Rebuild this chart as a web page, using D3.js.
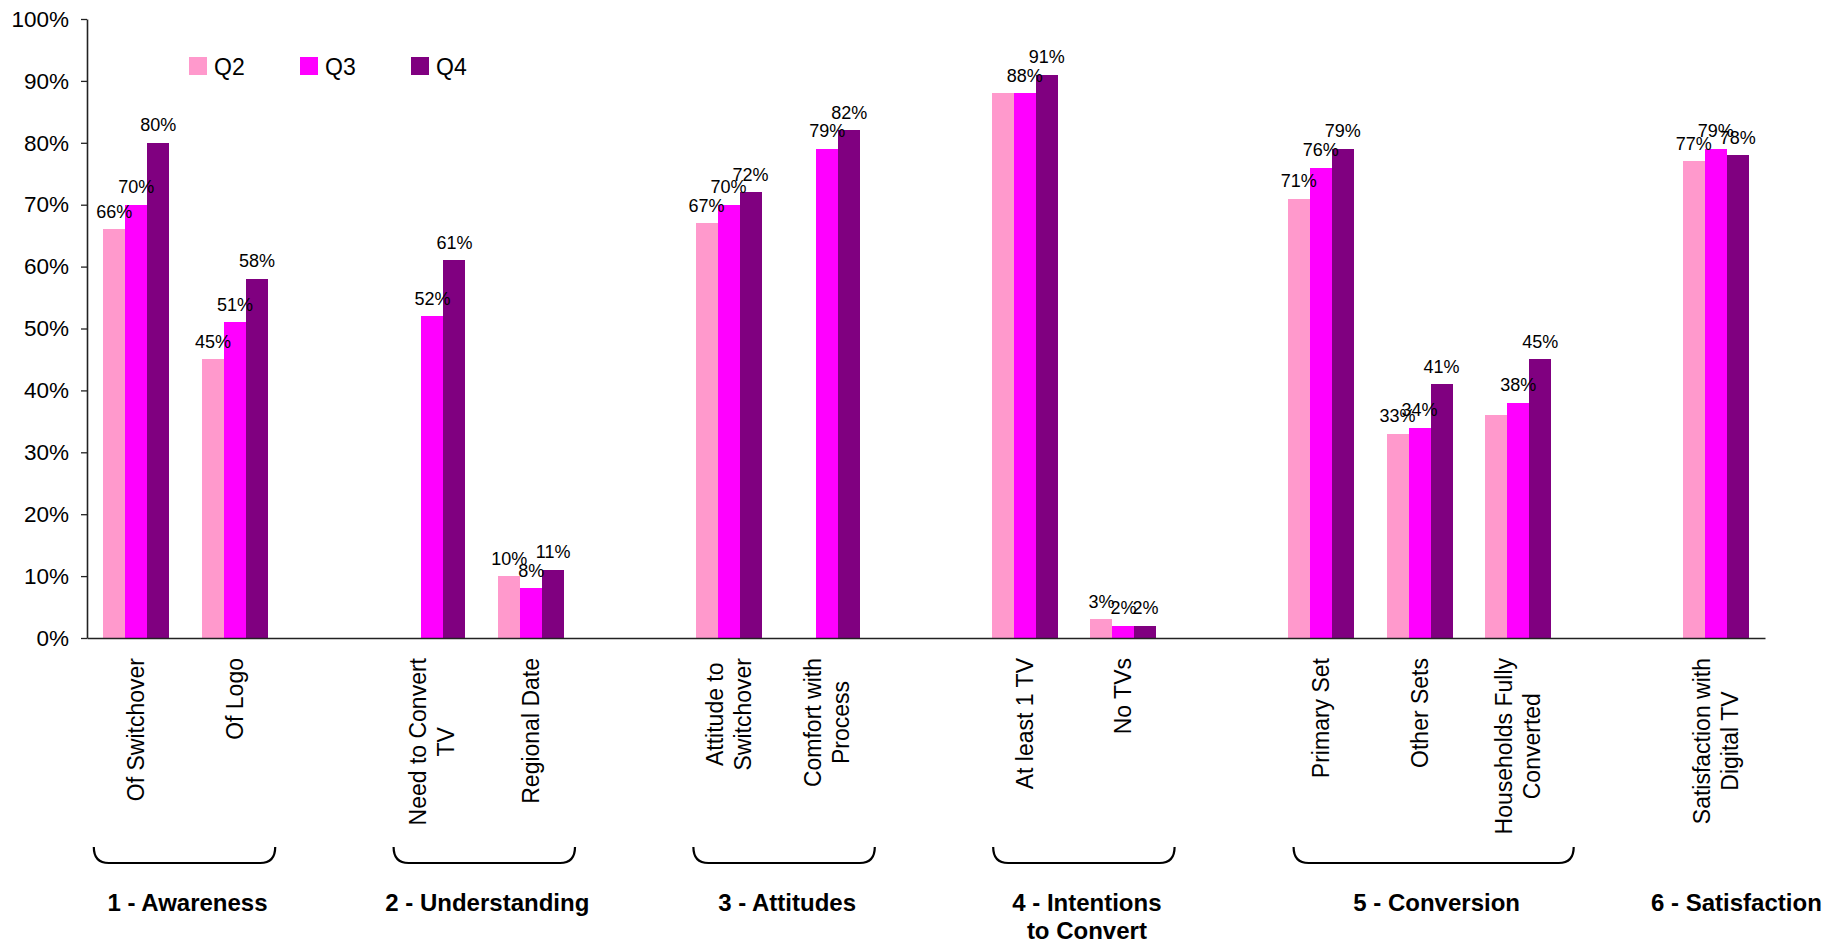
<!DOCTYPE html>
<html>
<head>
<meta charset="utf-8">
<script src="https://cdn.jsdelivr.net/npm/d3@7"></script>
<style>
  html, body { margin: 0; padding: 0; background: #fff; }
  svg { display: block; font-family: "Liberation Sans", Arial, sans-serif; }
</style>
</head>
<body>
<svg id="chart" width="1829" height="944"></svg>
<script>
// ---------- DATA ----------
const categories = [
  "Of Switchover", "Of Logo", "",
  "Need to Convert|TV", "Regional Date", "",
  "Attitude to|Switchover", "Comfort with|Process", "",
  "At least 1 TV", "No TVs", "",
  "Primary Set", "Other Sets", "Households Fully|Converted", "",
  "Satisfaction with|Digital TV"
];
const seriesNames = ["Q2", "Q3", "Q4"];
const q2 = [66, 45, null, null, 10, null, 67, null, null, 88, 3, null, 71, 33, 36, null, 77];
const q3 = [70, 51, null, 52, 8, null, 70, 79, null, 88, 2, null, 76, 34, 38, null, 79];
const q4 = [80, 58, null, 61, 11, null, 72, 82, null, 91, 2, null, 79, 41, 45, null, 78];
const hiddenLabels = [[9, "Q2"], [14, "Q2"]];   // labels not shown in the original
const yTicks = [0, 10, 20, 30, 40, 50, 60, 70, 80, 90, 100];
const groupNames = ["1 - Awareness", "2 - Understanding", "3 - Attitudes", "4 - Intentions|to Convert", "5 - Conversion", "6 - Satisfaction"];
const groupStart = [0, 3, 6, 9, 12, 16];
const groupEnd   = [1, 4, 7, 10, 14, 16];
const groupBraced = [true, true, true, true, true, false];

// ---------- STYLE ----------
const colors = { Q2: "#FF99CC", Q3: "#FF00FF", Q4: "#800080" };
const svg = d3.select("#chart");
const plot = { left: 87, right: 1765, top: 19, bottom: 638 };

const seriesValues = { Q2: q2, Q3: q3, Q4: q4 };

const x0 = d3.scaleBand().domain(d3.range(categories.length)).range([plot.left, plot.right]).padding(0);
const x1 = d3.scaleBand().domain(seriesNames).range([0, x0.bandwidth()]).paddingInner(0).paddingOuter(0.743);
const y = d3.scaleLinear().domain([0, 100]).range([plot.bottom, plot.top]);
// annotation layer (braces, group titles) is laid out slightly wider than the plot
const annot = d3.scaleLinear().domain([0, 1829]).range([-3.5, 1848.2]);

// y axis
const yAxis = svg.append("g")
  .attr("transform", `translate(${plot.left},0)`)
  .call(d3.axisLeft(y).tickValues(yTicks).tickFormat(d => d + "%").tickSize(6).tickSizeOuter(0).tickPadding(12));
yAxis.selectAll("text").attr("font-size", 22.5).attr("fill", "#000").attr("font-family", "Liberation Sans, Arial, sans-serif");
yAxis.selectAll("line").attr("stroke", "#222").attr("stroke-width", 1.3);
yAxis.select(".domain").attr("stroke", "#222").attr("stroke-width", 1.6);

// bars
const barData = [];
categories.forEach((c, i) => {
  seriesNames.forEach(s => {
    const v = seriesValues[s][i];
    if (v !== null && v !== undefined) barData.push({ i, s, v });
  });
});

svg.append("g").selectAll("rect").data(barData).join("rect")
  .attr("x", d => x0(d.i) + x1(d.s))
  .attr("width", x1.bandwidth())
  .attr("y", d => y(d.v))
  .attr("height", d => y(0) - y(d.v))
  .attr("fill", d => colors[d.s])
  .attr("shape-rendering", "crispEdges");

// x axis line
const xAxis = svg.append("g")
  .attr("transform", `translate(0,${plot.bottom})`)
  .call(d3.axisBottom(x0).tickValues([]).tickSizeOuter(0));
xAxis.select(".domain").attr("stroke", "#222").attr("stroke-width", 1.6);

// data labels
const isHidden = d => hiddenLabels.some(h => h[0] === d.i && h[1] === d.s);
svg.append("g").selectAll("text").data(barData.filter(d => !isHidden(d))).join("text")
  .attr("x", d => x0(d.i) + x1(d.s) + x1.bandwidth() / 2)
  .attr("y", d => y(d.v) - 11.5)
  .attr("text-anchor", "middle")
  .attr("font-size", 18)
  .attr("fill", "#000")
  .text(d => d.v + "%");

// category labels (rotated, top aligned, lines centered)
const catTop = 658;
const catLineH = 28;
const catG = svg.append("g");
categories.forEach((c, i) => {
  if (!c) return;
  const lines = c.split("|");
  const cx = x0(i) + x0.bandwidth() / 2;
  const g = catG.append("g");
  const t = g.append("text").attr("font-size", 23).attr("fill", "#000").attr("text-anchor", "middle");
  const n = lines.length;
  lines.forEach((ln, k) => {
    t.append("tspan").attr("x", 0).attr("y", 8 + (k - (n - 1) / 2) * catLineH).text(ln);
  });
  let maxW = 0;
  t.selectAll("tspan").each(function () { maxW = Math.max(maxW, this.getComputedTextLength()); });
  t.selectAll("tspan").attr("x", -maxW / 2);
  g.attr("transform", `translate(${cx},${catTop}) rotate(-90)`);
});

// group braces and group labels
const braceTop = 847, braceBottom = 863, braceTrim = 16;
const bg = svg.append("g");
groupNames.forEach((name, gi) => {
  const gl = x0(groupStart[gi]);
  const gr = x0(groupEnd[gi]) + x0.bandwidth();
  const cx = annot((gl + gr) / 2);
  const half = (gr - gl - braceTrim) / 2;
  const l = cx - half, r = cx + half;
  if (groupBraced[gi]) {
    const p = d3.path();
    p.moveTo(l, braceTop);
    p.bezierCurveTo(l, braceTop + 10, l + 4, braceBottom, l + 15, braceBottom);
    p.lineTo(r - 15, braceBottom);
    p.bezierCurveTo(r - 4, braceBottom, r, braceTop + 10, r, braceTop);
    bg.append("path").attr("d", p.toString()).attr("fill", "none").attr("stroke", "#000").attr("stroke-width", 2.2);
  }
  const t = bg.append("text").attr("text-anchor", "middle").attr("font-size", 24).attr("font-weight", "bold").attr("fill", "#000");
  name.split("|").forEach((ln, k) => {
    t.append("tspan").attr("x", cx + 3).attr("y", 911 + k * 28).text(ln);
  });
});

// legend
const legend = svg.append("g");
seriesNames.forEach((s, k) => {
  const lx = 189 + k * 111;
  legend.append("rect").attr("x", lx).attr("y", 57).attr("width", 18).attr("height", 18).attr("fill", colors[s]);
  legend.append("text").attr("x", lx + 25).attr("y", 74.5).attr("font-size", 23).attr("fill", "#000").text(s);
});
</script>
</body>
</html>
